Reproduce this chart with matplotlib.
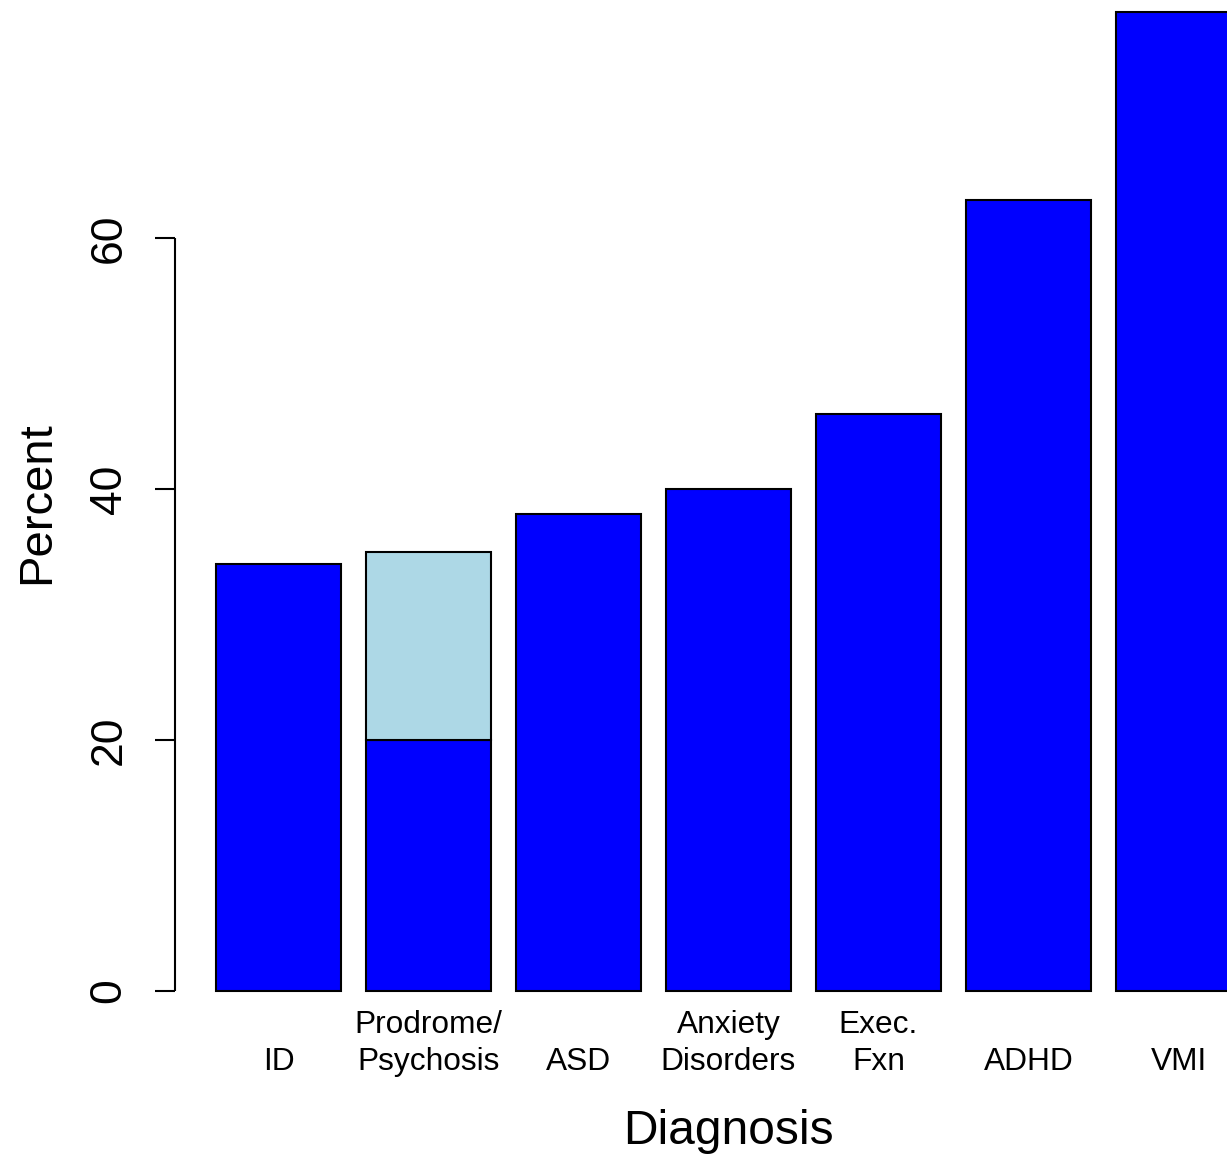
import matplotlib
matplotlib.use("Agg")
import matplotlib.pyplot as plt
from matplotlib.transforms import blended_transform_factory

plt.rcParams['font.family'] = ['Liberation Sans', 'DejaVu Sans']

categories = ["ID", "Prodrome/\nPsychosis", "ASD", "Anxiety\nDisorders", "Exec.\nFxn", "ADHD", "VMI"]
base_values = [34, 20, 38, 40, 46, 63, 78]
upper_values = [0, 15, 0, 0, 0, 0, 0]
yticks = [0, 20, 40, 60]

W, H = 1227, 1156
fig = plt.figure(figsize=(W / 100, H / 100), dpi=100)
ax_left, ax_right = 175, 1227
ax_top, ax_bottom = 0, 1010
ax = fig.add_axes([ax_left / W, 1 - ax_bottom / H, (ax_right - ax_left) / W, (ax_bottom - ax_top) / H])

x = [i * 1.2 for i in range(len(categories))]
ax.bar(x, base_values, width=1.0, color='#0000FF', edgecolor='black', linewidth=1.5)
upper = ax.bar(x, upper_values, width=1.0, bottom=base_values, color='#ADD8E6', edgecolor='black', linewidth=1.5)
for b, u in zip(upper, upper_values):
    if u == 0:
        b.set_visible(False)

px0, ppu = 278.5, 125.0
ax.set_xlim((ax_left - px0) / ppu, (ax_right - px0) / ppu)
y0, ppv = 991, 12.55
ax.set_ylim((y0 - ax_bottom) / ppv, (y0 - ax_top) / ppv)

for s in ax.spines.values():
    s.set_visible(False)
ax.set_xticks([])
ax.set_yticks([])

xl = ax.get_xlim()[0]
ax.plot([xl, xl], [yticks[0], yticks[-1]], color='black', lw=1.5, clip_on=False, solid_capstyle='butt')
tick_len = 20 / ppu
for t in yticks:
    ax.plot([xl - tick_len, xl], [t, t], color='black', lw=1.5, clip_on=False, solid_capstyle='butt')
    ax.text(xl - 66 / ppu, t, str(t), rotation=90, ha='center', va='center', fontsize=32, clip_on=False)

trans = blended_transform_factory(ax.transData, fig.transFigure)
line_gap = 37
for xi, lab in zip(x, categories):
    lines = lab.split("\n")
    for k, line in enumerate(reversed(lines)):
        ypx = 1070 - k * line_gap
        ax.text(xi, 1 - ypx / H, line, transform=trans, ha='center', va='baseline', fontsize=22.8, clip_on=False)

fig.text(728 / W, 1 - 1131 / H, "Diagnosis", ha='center', va='center', fontsize=34.5)
fig.text(37 / W, 1 - 503 / H, "Percent", ha='center', va='center', rotation=90, fontsize=34)

fig.savefig("out.png", dpi=100)
